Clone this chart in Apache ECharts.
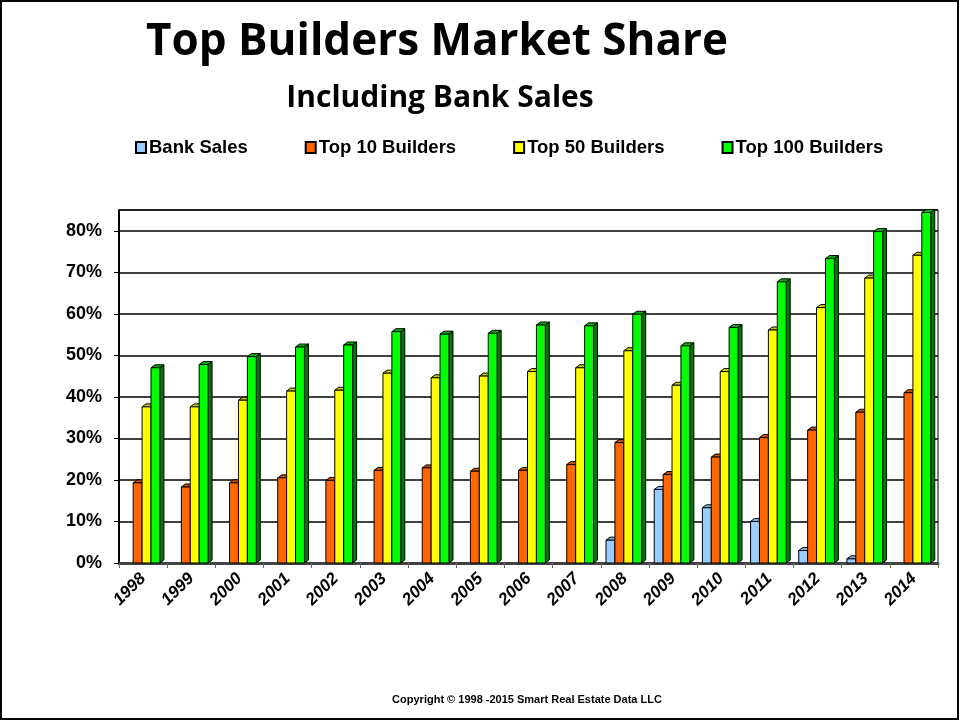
<!DOCTYPE html>
<html>
<head>
<meta charset="utf-8">
<script src="https://cdn.jsdelivr.net/npm/echarts@6/dist/echarts.min.js"></script>
<style>
  html, body { margin: 0; padding: 0; background: #fff; }
  #chart { width: 960px; height: 721px; }
</style>
</head>
<body>
<div id="chart"></div>
<script>
const years = ['1998', '1999', '2000', '2001', '2002', '2003', '2004', '2005', '2006',
  '2007', '2008', '2009', '2010', '2011', '2012', '2013', '2014']
const bankSales = [0, 0, 0, 0, 0, 0, 0, 0, 0, 0, 5.5, 17.7, 13.3, 10.0, 3.0, 1.0, 0]
const top10 = [19.3, 18.3, 19.3, 20.5, 19.9, 22.3, 22.9, 22.1, 22.3, 23.7, 29.0, 21.3, 25.5, 30.2, 32.0, 36.3, 41.0]
const top50 = [37.6, 37.6, 39.2, 41.4, 41.6, 45.7, 44.6, 45.0, 46.1, 47.0, 51.1, 42.8, 46.1, 56.1, 61.5, 68.6, 74.1]
const top100 = [47.0, 47.8, 49.7, 52.0, 52.5, 55.7, 55.1, 55.3, 57.3, 57.1, 59.9, 52.3, 56.7, 67.7, 73.3, 79.8, 84.4]

const chart = echarts.init(document.getElementById('chart'), null, { renderer: 'canvas' })

// fake 3D column: front face, right side, top cap
function bar3d(name, values, slot, face, side, cap) {
  return {
    name,
    type: 'custom',
    data: values.map((v, i) => [i, v]),
    encode: { x: 0, y: 1 },
    itemStyle: { color: face, borderColor: '#000', borderWidth: 1 },
    renderItem: (params, api) => {
      const idx = api.value(0)
      const v = api.value(1)
      if (!v) return null
      const band = api.size([1, 0])[0]
      const bw = band * 0.185
      const base = api.coord([idx, 0])
      const topY = api.coord([idx, v])[1]
      const x0 = base[0] - bw * 2 + slot * bw - 1
      const x1 = x0 + bw
      const dx = 4, dy = 3
      const st = { stroke: '#000', lineWidth: 1 }
      return {
        type: 'group',
        children: [
          { type: 'polygon', shape: { points: [[x1, base[1]], [x1, topY], [x1 + dx, topY - dy], [x1 + dx, base[1] - dy]] },
            style: Object.assign({ fill: side }, st) },
          { type: 'polygon', shape: { points: [[x0, topY], [x0 + dx, topY - dy], [x1 + dx, topY - dy], [x1, topY]] },
            style: Object.assign({ fill: cap }, st) },
          { type: 'rect', shape: { x: x0, y: topY, width: bw, height: base[1] - topY },
            style: Object.assign({ fill: face }, st) }
        ]
      }
    }
  }
}

chart.setOption({
  backgroundColor: '#fff',
  animation: false,
  title: [
    {
      text: 'Top Builders Market Share',
      left: 432, top: 15, textAlign: 'center',
      textStyle: { fontFamily: 'Open Sans', fontWeight: 'bold', fontSize: 44, color: '#000' }
    },
    {
      text: 'Including Bank Sales',
      left: 435, top: 78, textAlign: 'center',
      textStyle: { fontFamily: 'Open Sans', fontWeight: 'bold', fontSize: 30, color: '#000' }
    },
    {
      text: 'Copyright © 1998 -2015 Smart Real Estate Data LLC',
      left: 522, top: 689, textAlign: 'center',
      textStyle: { fontFamily: 'Liberation Sans', fontWeight: 'bold', fontSize: 11, color: '#000' }
    }
  ],
  legend: {
    left: 130, top: 133,
    icon: 'rect',
    itemWidth: 10, itemHeight: 11, itemGap: 57,
    textStyle: { fontFamily: 'Liberation Sans', fontWeight: 'bold', fontSize: 18.5, color: '#000', padding: [0, 0, 0, -2] }
  },
  grid: { left: 119, right: 22, top: 210, bottom: 158, show: true, borderColor: '#000', borderWidth: 1 },
  xAxis: {
    type: 'category',
    data: years,
    axisLine: { lineStyle: { color: '#444', width: 3 } },
    axisTick: { show: true, length: 5, lineStyle: { color: '#666' } },
    axisLabel: {
      rotate: 45, margin: 13,
      fontFamily: 'Liberation Sans', fontWeight: 'bold', fontStyle: 'italic', fontSize: 17, color: '#000'
    }
  },
  yAxis: {
    type: 'value',
    min: 0, max: 85, interval: 10,
    axisLine: { show: true, lineStyle: { color: '#000', width: 2 } },
    axisTick: { show: true, length: 5, lineStyle: { color: '#000' } },
    axisLabel: {
      showMaxLabel: false, margin: 17,
      formatter: (v) => v + '%',
      fontFamily: 'Liberation Sans', fontWeight: 'bold', fontSize: 18, color: '#000'
    },
    splitLine: { lineStyle: { color: '#000', width: 1.5 } }
  },
  graphic: [
    { type: 'rect', shape: { x: 1, y: 1, width: 957, height: 718 }, style: { fill: 'none', stroke: '#000', lineWidth: 2 }, z: 100 }
  ],
  series: [
    bar3d('Bank Sales', bankSales, 0, '#99CCFF', '#5B8DB8', '#7FB2E5'),
    bar3d('Top 10 Builders', top10, 1, '#FF6600', '#B34700', '#CC5200'),
    bar3d('Top 50 Builders', top50, 2, '#FFFF00', '#B3B300', '#CCCC00'),
    bar3d('Top 100 Builders', top100, 3, '#00FF00', '#007A00', '#00B300')
  ]
})

window.addEventListener('resize', () => chart.resize())
</script>
</body>
</html>
